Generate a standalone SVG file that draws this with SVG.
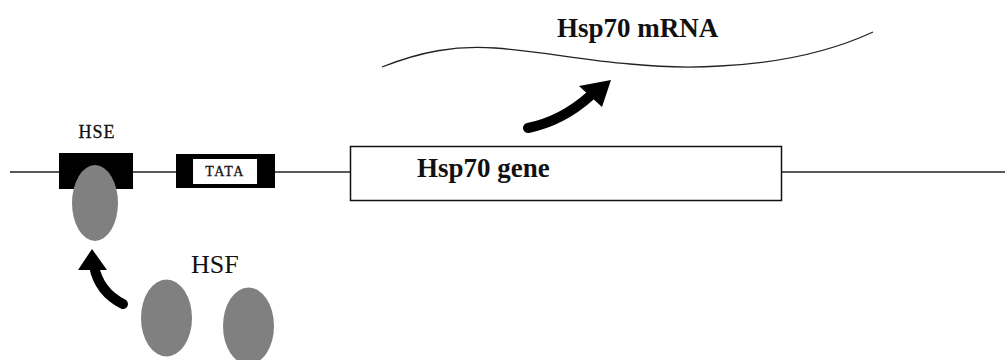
<svg xmlns="http://www.w3.org/2000/svg" width="1005" height="360" viewBox="0 0 1005 360">
<style>
.t{font-family:"Liberation Serif","Times New Roman",serif;fill:#111}
.b{font-weight:bold}
.prot{fill:#808080}
.shaft{fill:none;stroke:#000;stroke-width:10;stroke-linecap:round}
</style>
<rect width="1005" height="360" fill="#fff"/>
<g id="dna">
<line x1="10" y1="172" x2="1005" y2="172" stroke="#222" stroke-width="1.6"/>
</g>
<g id="hse">
<rect x="59" y="153" width="74" height="36" fill="#000"/>
<text class="t" x="97" y="137.5" font-size="18" letter-spacing="1" stroke="#111" stroke-width="0.3" text-anchor="middle">HSE</text>
</g>
<g id="tata">
<rect x="176" y="154" width="99" height="34" fill="#000"/>
<rect x="193" y="159" width="64" height="25" fill="#fff"/>
<text class="t" x="225" y="176" font-size="14" letter-spacing="1.5" stroke="#111" stroke-width="0.3" text-anchor="middle">TATA</text>
</g>
<g id="gene">
<rect x="350.5" y="146.5" width="431" height="54" fill="#fff" stroke="#111" stroke-width="1.5"/>
<text class="t b" x="417" y="177" font-size="27">Hsp70 gene</text>
</g>
<g id="mrna">
<path d="M382,67 C420,52 455,45 495,48 C540,51 580,60 630,64 C660,67 690,68 720,66 C780,63 830,52 873,32" fill="none" stroke="#222" stroke-width="1.3"/>
<text class="t b" x="557" y="37" font-size="27">Hsp70 mRNA</text>
</g>
<g id="hsf-bound">
<ellipse class="prot" cx="95" cy="203" rx="23" ry="38"/>
</g>
<g id="hsf">
<text class="t" x="191" y="273" font-size="26">HSF</text>
<ellipse class="prot" cx="166.5" cy="318" rx="25.5" ry="38.5"/>
<ellipse class="prot" cx="248.5" cy="326" rx="25.5" ry="38.5"/>
</g>
<g id="connectors">
<path class="shaft" d="M528,128 Q562,121 590,96"/>
<polygon points="611,80 579,86 602,107" fill="#000"/>
<path class="shaft" d="M123,304 Q99,292 94,266"/>
<polygon points="92,249 78,270 107,270" fill="#000"/>
</g>
</svg>
